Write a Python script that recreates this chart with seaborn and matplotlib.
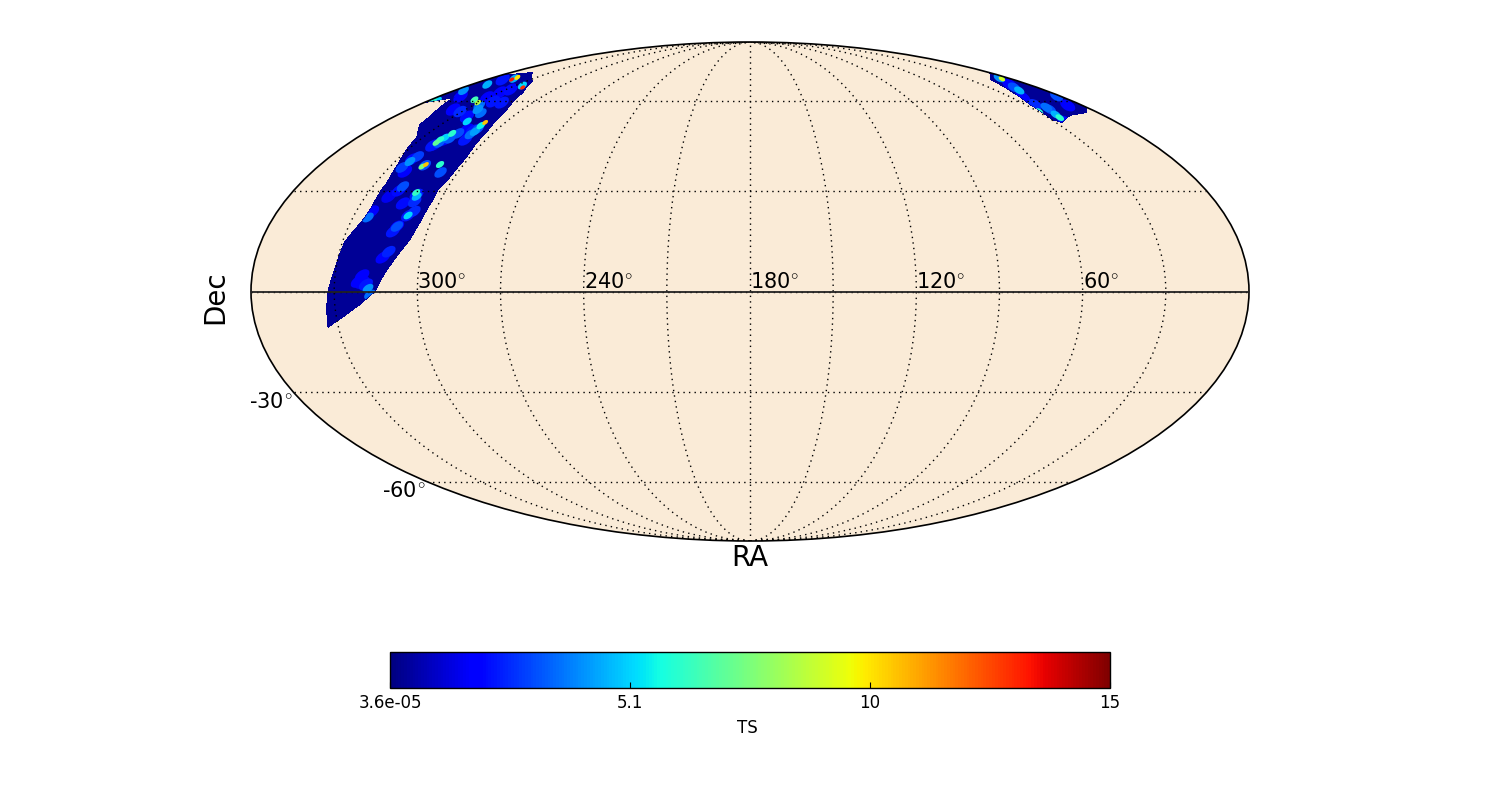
import numpy as np
import pandas as pd
import matplotlib
matplotlib.use("Agg")
import matplotlib.pyplot as plt
from matplotlib.markers import MarkerStyle
from matplotlib.transforms import Affine2D
from matplotlib.cm import ScalarMappable
from matplotlib.colors import Normalize
from matplotlib.ticker import NullFormatter
import seaborn as sns

# ---- data (sky coordinates, degrees) ----
TS_MIN, TS_MAX = 3.6e-05, 15.0
BASE_TS = 0.35
main_ra = [333.8, 332.9, 332.2, 331, 330, 329.1, 327.1, 325.4, 325, 325.5, 325.5, 327.5, 331, 332.7,
           340.2, 341.9, 348, 349.3, 359.9, 359.9, 359.9, 359.9, 359.9, 343.4, 325.6, 315.8, 313.7,
           308.2, 303.6, 302.8, 301.4, 301.5, 301.9, 303.3, 303, 303.9, 305.4, 310, 312.9, 315.3,
           320.9, 326.8]
main_dec = [-10.5, -4.4, 0, 4.1, 8.5, 14.7, 18.25, 21.8, 25.2, 30.4, 32.55, 38.2, 43.8, 47.1,
            51.6, 54.4, 59.9, 61.5, 59.5, 62, 65, 68, 70.5, 71.7, 67.9, 63.4, 61.5,
            56.95, 49.15, 45.44, 40.8, 38.2, 33.5, 30.4, 27.3, 20.3, 15.3, 8.5, 4.1, 0,
            -3.8, -7.0]
east_ra = [0.1, 15.8, 22.7, 27.5, 29.6, 27.1, 17.2, 6, 0.1]
east_dec = [71.7, 68.7, 63.4, 58.8, 53.3, 52.3, 54.8, 55.8, 57.7]

main_spot_ra = [321.5, 318.6, 320.2, 317.8, 317.1, 312, 313.7, 311.9, 312.7, 309.5, 308, 311.2, 310, 309.7,
                318, 318.5, 324.3, 324, 320.9, 313.8, 323.7, 324.7, 322.5, 322, 315.8, 316.7, 316,
                309.9, 307, 321, 320.9, 319.8, 318.9, 319.6, 317, 316.1, 321.3, 309.3, 309.9, 309.9, 310,
                309.5, 330.3, 335.4, 323.5, 318.8, 326.5, 319.4, 354.5, 349.7, 356.4, 355.3, 343, 343.4,
                349.2, 322.5, 325.5, 323, 317, 331, 336.6, 323.2, 330.9, 329.5, 347.6, 327.2, 314.4, 343.2,
                318.6, 320.6, 311, 309.5, 323.8, 310.5, 309.5, 311.9, 320]
main_spot_dec = [2.9, 2.05, 4.7, 0.9, -0.9, 11.7, 10, 19.15, 17.65, 22.45, 23.65, 29.45, 28.2, 26.7,
                 31.3, 30.05, 21.84, 23.65, 28.2, 26.1, 39.2, 37.3, 40.8, 36, 38.24, 37.6, 38,
                 38.24, 35.7, 45.4, 46.4, 47.1, 48.5, 45.4, 46.8, 48.5, 44.4, 49.15, 48.2, 52.3, 51.2,
                 46.4, 59.5, 60.6, 56.95, 55.6, 58.4, 52.65, 64.2, 66.6, 59.9, 60.3, 68.7, 69.6,
                 68.7, 65.4, 66.2, 59.9, 59.5, 56.2, 56.95, 54.4, 61.5, 63.4, 61.9, 64.6, 49.8, 69.1,
                 46.4, 44.7, 49.5, 50, 39.9, 28.8, 22.45, 19.15, 2.6]
main_spot_ts = [1.8, 2.2, 1.8, 4.0, 3.5, 2.4, 1.8, 3.0, 2.2, 5.0, 2.5, 6.2, 4.5, 2.5,
                3.0, 2.0, 3.5, 1.8, 1.5, 2.0, 4.0, 2.8, 2.8, 1.8, 10.5, 7.5, 3.0,
                6.0, 3.0, 7.0, 6.0, 5.0, 6.0, 3.2, 3.2, 3.0, 2.2, 4.2, 3.5, 10.5, 5.5,
                2.2, 8.5, 6.5, 4.0, 3.5, 3.5, 5.0, 4.0, 4.5, 6.0, 5.0, 13.3, 10.0,
                2.2, 13.0, 5.0, 2.2, 2.2, 2.5, 1.8, 2.0, 1.8, 1.8, 1.8, 2.0, 1.8, 4.5,
                2.0, 2.0, 2.2, 3.0, 2.0, 2.2, 2.2, 1.9, 1.6]

east_spot_ra = [6.2, 6, 16, 14.4, 2.5, 24.2, 23.6, 21.8, 21.6, 29.5, 24.8, 23.4, 24.8, 8.1, 12.3]
east_spot_dec = [69, 69.4, 64.2, 65.4, 61.9, 54, 55.1, 57, 57.7, 56.2, 58.8, 61.5, 52.65, 58.4, 66.6]
east_spot_ts = [9.0, 4.0, 4.5, 3.0, 3.0, 6.0, 4.5, 3.0, 3.5, 6.0, 2.5, 1.8, 2.0, 1.8, 1.8]

grid_ra_labels = [300, 240, 180, 120, 60]
grid_dec_labels = [-30, -60]
cbar_ticks = [TS_MIN, 5.0, 10.0, 15.0]
cbar_labels = ["3.6e-05", "5.1", "10", "15"]

# ---- figure ----
plt.rcParams["font.family"] = ["DejaVu Sans"]
plt.rcParams["mathtext.fontset"] = "cm"
W, H = 1500, 800
fig = plt.figure(figsize=(15, 8), dpi=100, facecolor="white")
ax = fig.add_axes([251 / W, (H - 541) / H, 998 / W, 499 / H], projection="mollweide")
ax.set_facecolor("#FAEBD7")


def lon(ra):
    return np.radians(180.0 - np.asarray(ra, dtype=float))


cmap = plt.get_cmap("jet")
norm = Normalize(TS_MIN, TS_MAX)


def draw_region(ra, dec, s_ra, s_dec, s_ts, tilt):
    poly = ax.fill(lon(ra), np.radians(dec), color=cmap(norm(BASE_TS)), lw=0, zorder=1.5,
                   antialiased=False)[0]
    spots = pd.DataFrame({"ra": s_ra, "dec": s_dec, "ts": s_ts}).sort_values("ts")
    spots["lon"] = lon(spots["ra"])
    spots["lat"] = np.radians(spots["dec"])
    blob = MarkerStyle("o", transform=Affine2D().scale(1.35, 0.8).rotate_deg(tilt))
    # lower TS spots are wider halos, the hottest cores are small
    diam_pt = np.interp(spots["ts"], [1.5, 2.2, 3, 5, 8, 13], [9, 8.5, 7.5, 5.5, 4, 3])
    before = len(ax.collections)
    sns.scatterplot(data=spots, x="lon", y="lat", hue="ts", hue_norm=norm, palette=cmap,
                    marker=blob, s=diam_pt ** 2, edgecolor="none", linewidth=0,
                    legend=False, ax=ax, zorder=1.8)
    for coll in ax.collections[before:]:
        coll.set_clip_path(poly)


draw_region(main_ra, main_dec, main_spot_ra, main_spot_dec, main_spot_ts, 35)
draw_region(east_ra, east_dec, east_spot_ra, east_spot_dec, east_spot_ts, -30)
ax.set_xlabel("")
ax.set_ylabel("")

ax.set_longitude_grid(30)
ax.set_latitude_grid(30)
ax.set_longitude_grid_ends(90)
ax.xaxis.set_major_formatter(NullFormatter())
ax.yaxis.set_major_formatter(NullFormatter())
ax.grid(True, color="black", linestyle=(0, (1, 3)), linewidth=1.0, zorder=3)
ax.set_axisbelow(False)
ax.plot([-np.pi, np.pi], [0, 0], color="#222222", lw=1.3, zorder=3.5)
for s in ax.spines.values():
    s.set_edgecolor("black")
    s.set_linewidth(1.2)

for ra in grid_ra_labels:
    ax.annotate(f"{ra}$^{{\\circ}}$", (lon(ra), 0), xytext=(0, 7), textcoords="offset points",
                ha="left", va="center", fontsize=15, color="black", zorder=5)
for dec in grid_dec_labels:
    ax.annotate(f"{dec}$^{{\\circ}}$", (-np.pi, np.radians(dec)), xytext=(-1, -6.7),
                textcoords="offset points", ha="right", va="center", fontsize=15, color="black", zorder=5)

fig.text(750 / W, (H - 558) / H, "RA", fontsize=20, ha="center", va="center", color="black")
fig.text(215 / W, (H - 297) / H, "Dec", fontsize=20, ha="center", va="center", rotation=90, color="black")

cax = fig.add_axes([390 / W, (H - 688) / H, 720 / W, 36 / H])
cb = fig.colorbar(ScalarMappable(norm=norm, cmap=cmap), cax=cax, orientation="horizontal",
                  ticks=cbar_ticks)
cb.ax.set_xticklabels(cbar_labels, fontsize=12, color="black")
cb.ax.tick_params(axis="x", direction="in", length=4, width=0.8, color="black", bottom=True, pad=4)
cb.outline.set_edgecolor("black")
cb.outline.set_linewidth(1.0)
cb.set_label("TS", fontsize=12, color="black")
cb.ax.xaxis.set_label_coords((747 - 390) / 720, -0.86)

fig.savefig("out.png", dpi=100)
